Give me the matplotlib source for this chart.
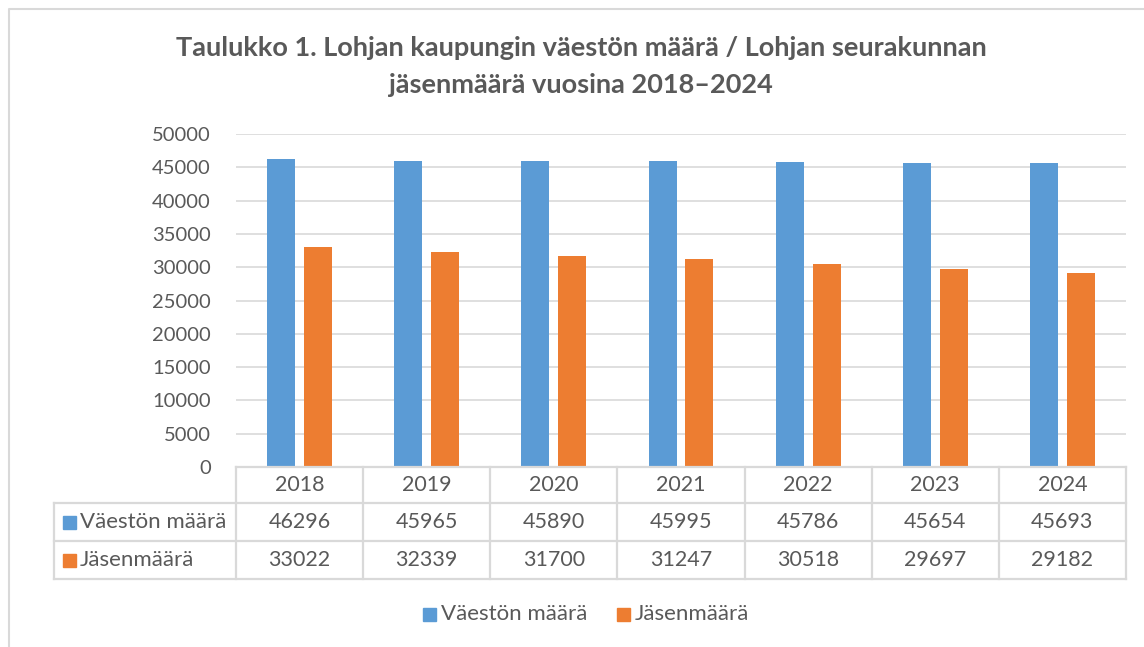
import matplotlib.pyplot as plt
import numpy as np

plt.rcParams['font.family'] = ['Lato', 'DejaVu Sans']

years = ['2018', '2019', '2020', '2021', '2022', '2023', '2024']
vaesto = [46296, 45965, 45890, 45995, 45786, 45654, 45693]
jasenet = [33022, 32339, 31700, 31247, 30518, 29697, 29182]
sarjat = ['Väestön määrä', 'Jäsenmäärä']
varit = ['#5B9BD5', '#ED7D31']
teksti = '#595959'
viiva = '#D9D9D9'

W, H = 1144, 647
fig = plt.figure(figsize=(W / 100, H / 100), dpi=100)

# plot area in pixels
x0, x1 = 236, 1126
y_top, y_zero = 134, 467
ax = fig.add_axes([x0 / W, 1 - y_zero / H, (x1 - x0) / W, (y_zero - y_top) / H])

n = len(years)
x = np.arange(n)
w = 0.22
ax.bar(x - 0.145, vaesto, w, color=varit[0], zorder=3)
ax.bar(x + 0.145, jasenet, w, color=varit[1], zorder=3)
ax.set_xlim(-0.5, n - 0.5)
ax.set_ylim(0, 50000)
ax.set_yticks(range(0, 50001, 5000))
ax.yaxis.grid(True, color=viiva, linewidth=1.2)
ax.set_axisbelow(True)
ax.tick_params(axis='y', length=0, labelsize=14.5, labelcolor=teksti, pad=18)
ax.set_xticks([])
for s in ax.spines.values():
    s.set_visible(False)

# overlay for table, title, legend, frame (pixel coordinates)
ov = fig.add_axes([0, 0, 1, 1])
ov.set_xlim(0, W)
ov.set_ylim(H, 0)
ov.axis('off')
ov.patch.set_alpha(0)

lw = 1.6
cw = (x1 - x0) / n
rows = [467, 503, 541, 579]
ov.plot([x0, x1], [rows[0], rows[0]], color=viiva, lw=lw)
for r in rows[1:]:
    ov.plot([54, x1], [r, r], color=viiva, lw=lw)
ov.plot([54, 54], [rows[1], rows[3]], color=viiva, lw=lw)
for i in range(n + 1):
    xx = x0 + i * cw
    ov.plot([xx, xx], [rows[0], rows[3]], color=viiva, lw=lw)

fs = 15.5
for i, y in enumerate(years):
    cx = x0 + (i + 0.5) * cw
    ov.text(cx, (rows[0] + rows[1]) / 2, y, ha='center', va='center', fontsize=fs, color=teksti)
    ov.text(cx, (rows[1] + rows[2]) / 2, str(vaesto[i]), ha='center', va='center', fontsize=fs, color=teksti)
    ov.text(cx, (rows[2] + rows[3]) / 2, str(jasenet[i]), ha='center', va='center', fontsize=fs, color=teksti)

for j, (nimi, c) in enumerate(zip(sarjat, varit)):
    ym = (rows[j + 1] + rows[j + 2]) / 2
    ov.add_patch(plt.Rectangle((63, ym - 6.5), 13, 13, color=c))
    ov.text(80, ym, nimi, ha='left', va='center', fontsize=16, color=teksti)

# legend
for (lx, nimi, c) in zip([423, 617], sarjat, varit):
    ov.add_patch(plt.Rectangle((lx, 608), 13, 13, color=c))
    ov.text(lx + 18, 614, nimi, ha='left', va='center', fontsize=16, color=teksti)

# title
ov.text(581, 48, 'Taulukko 1. Lohjan kaupungin väestön määrä / Lohjan seurakunnan',
        ha='center', va='center', fontsize=19.5, fontweight='bold', color=teksti)
ov.text(581, 85, 'jäsenmäärä vuosina 2018–2024',
        ha='center', va='center', fontsize=19.5, fontweight='bold', color=teksti)

# chart frame
ov.plot([9, 9, W + 5], [H + 5, 9, 9], color=viiva, lw=1.5)

fig.savefig('out.png', dpi=100)
